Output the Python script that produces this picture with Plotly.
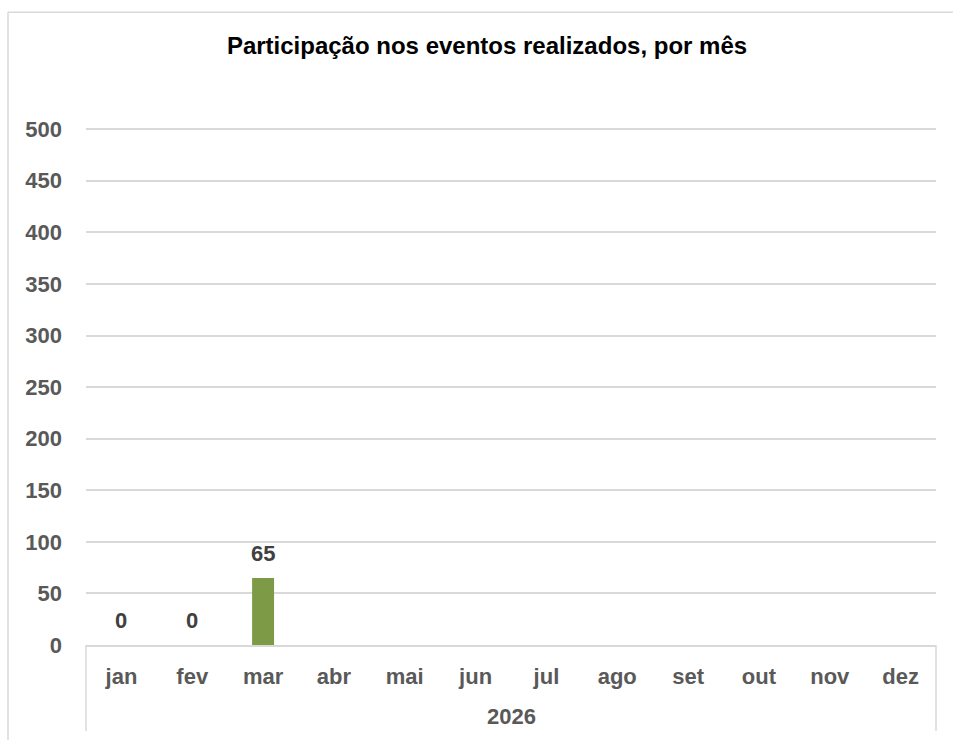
import plotly.graph_objects as go

months = ["jan", "fev", "mar", "abr", "mai", "jun", "jul", "ago", "set", "out", "nov", "dez"]
participants = [0, 0, 65, None, None, None, None, None, None, None, None, None]
year_label = "2026"
title_text = "Participação nos eventos realizados, por mês"
y_ticks = list(range(0, 501, 50))
Y_TOP = 505  # a little headroom so the 500 gridline is drawn

FONT = "Liberation Sans, Arial, sans-serif"
GRID = "#D9D9D9"

W, H = 953, 740
PB = 645                                 # y of value 0 (px)
PT = PB - (PB - 129) * Y_TOP / 500       # top of plot area (px)
PL, PR = 86, 936
L, R, T, B = PL, W - PR, PT, H - PB
pw, ph = W - L - R, H - T - B

def px2paper_x(px):
    return (px - PL) / pw

def px2paper_y(py):
    return (PB - py) / ph

fig = go.Figure()
fig.add_trace(go.Bar(
    x=months, y=participants,
    marker=dict(color="#7D9A47", line=dict(width=0)),
    hoverinfo="x+y",
))

# data labels
for m, v in zip(months, participants):
    if v is None:
        continue
    fig.add_annotation(
        x=m, y=v, xref="x", yref="y", text=str(v), showarrow=False,
        yanchor="bottom", yshift=10,
        font=dict(family=FONT, size=22, color="#404040", weight="bold"),
    )

# outer chart border (top and left edges visible)
fig.add_shape(type="line", xref="paper", yref="paper",
              x0=px2paper_x(8), x1=px2paper_x(960), y0=px2paper_y(12), y1=px2paper_y(12),
              line=dict(color=GRID, width=1.5), layer="below")
fig.add_shape(type="line", xref="paper", yref="paper",
              x0=px2paper_x(8), x1=px2paper_x(8), y0=px2paper_y(12), y1=px2paper_y(760),
              line=dict(color=GRID, width=1.5), layer="below")
# category group edges
for xp in (0, 1):
    fig.add_shape(type="line", xref="paper", yref="paper",
                  x0=xp, x1=xp, y0=0, y1=px2paper_y(731),
                  line=dict(color=GRID, width=1.5))

fig.add_annotation(
    x=0.5, y=px2paper_y(717), xref="paper", yref="paper", text=year_label,
    showarrow=False, yanchor="middle",
    font=dict(family=FONT, size=22, color="#595959", weight="bold"),
)

fig.update_layout(
    width=W, height=H,
    margin=dict(l=L, r=R, t=T, b=B, autoexpand=False),
    paper_bgcolor="white", plot_bgcolor="white",
    bargap=0.69,
    showlegend=False,
    title=dict(text=title_text, x=487 / W, xanchor="center",
               y=1 - 46 / H, yanchor="middle", yref="container",
               font=dict(family=FONT, size=24, color="#000000", weight="bold")),
    font=dict(family=FONT),
)
fig.update_xaxes(
    type="category", categoryorder="array", categoryarray=months,
    showline=True, linecolor=GRID, linewidth=1.5,
    showgrid=False, ticks="", ticklabelstandoff=11,
    tickfont=dict(family=FONT, size=22, color="#595959", weight="bold"),
)
fig.update_yaxes(
    range=[0, Y_TOP], tickvals=y_ticks,
    showgrid=True, gridcolor=GRID, gridwidth=1.5,
    zeroline=False, showline=False, ticks="", ticklabelstandoff=23,
    tickfont=dict(family=FONT, size=22, color="#595959", weight="bold"),
)

fig.write_html(
    "out.html",
    config={"displayModeBar": False},
    post_script="document.body.style.margin='0';document.body.style.overflow='hidden';",
)
